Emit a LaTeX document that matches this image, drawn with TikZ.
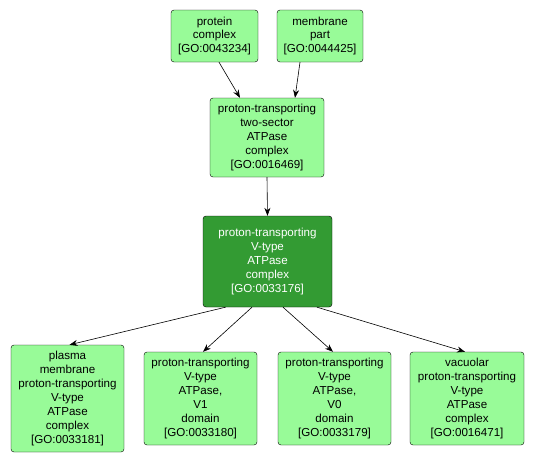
\documentclass[tikz,border=0pt]{standalone}
\usepackage{fontspec}
\setmainfont{Liberation Sans}
\usetikzlibrary{arrows.meta}
\definecolor{golight}{RGB}{152,251,152}
\definecolor{godark}{RGB}{51,155,51}
\tikzset{
  term/.style={draw=black, fill=golight, rounded corners=3pt, align=center,
    inner sep=0pt, font=\fontsize{11.6}{14}\selectfont},
  focus/.style={term, fill=godark, text=white},
  isa/.style={-{Stealth[length=8pt,width=6pt]}, semithick}
}
\begin{document}
\begin{tikzpicture}[x=1pt,y=-1pt]
  \useasboundingbox (0,0) rectangle (536,463);
  \node [term, minimum width=87, minimum height=52] (protcx) at (214.5,36) {protein\\complex\\{[GO:0043234]}};
  \node [term, minimum width=86, minimum height=52] (membpt) at (320,36) {membrane\\part\\{[GO:0044425]}};
  \node [term, minimum width=114, minimum height=79] (twosec) at (267,137.5) {proton-transporting\\two-sector\\ATPase\\complex\\{[GO:0016469]}};
  \node [focus, minimum width=129, minimum height=91] (vtype) at (267.5,261.5) {proton-transporting\\V-type\\ATPase\\complex\\{[GO:0033176]}};
  \node [term, minimum width=113, minimum height=107] (plasma) at (67.5,398.5) {plasma\\membrane\\proton-transporting\\V-type\\ATPase\\complex\\{[GO:0033181]}};
  \node [term, minimum width=113, minimum height=93] (vone) at (200.5,398.5) {proton-transporting\\V-type\\ATPase,\\V1\\domain\\{[GO:0033180]}};
  \node [term, minimum width=113, minimum height=93] (vzero) at (334.5,398.5) {proton-transporting\\V-type\\ATPase,\\V0\\domain\\{[GO:0033179]}};
  \node [term, minimum width=114, minimum height=93] (vacuol) at (467,398.5) {vacuolar\\proton-transporting\\V-type\\ATPase\\complex\\{[GO:0016471]}};
  % is_a edges
  \draw [isa] ([xshift=4.5]protcx.south) -- ([xshift=-27]twosec.north);
  \draw [isa] ([xshift=-20]membpt.south) -- ([xshift=28]twosec.north);
  \draw [isa] (twosec.south) -- (vtype.north);
  \draw [isa] ([xshift=-42]vtype.south) -- ([xshift=2]plasma.north);
  \draw [isa] ([xshift=-15.5]vtype.south) -- ([xshift=2.5]vone.north);
  \draw [isa] ([xshift=15.5]vtype.south) -- ([xshift=-1.5]vzero.north);
  \draw [isa] ([xshift=49.5]vtype.south) -- ([xshift=-2]vacuol.north);
\end{tikzpicture}
\end{document}
